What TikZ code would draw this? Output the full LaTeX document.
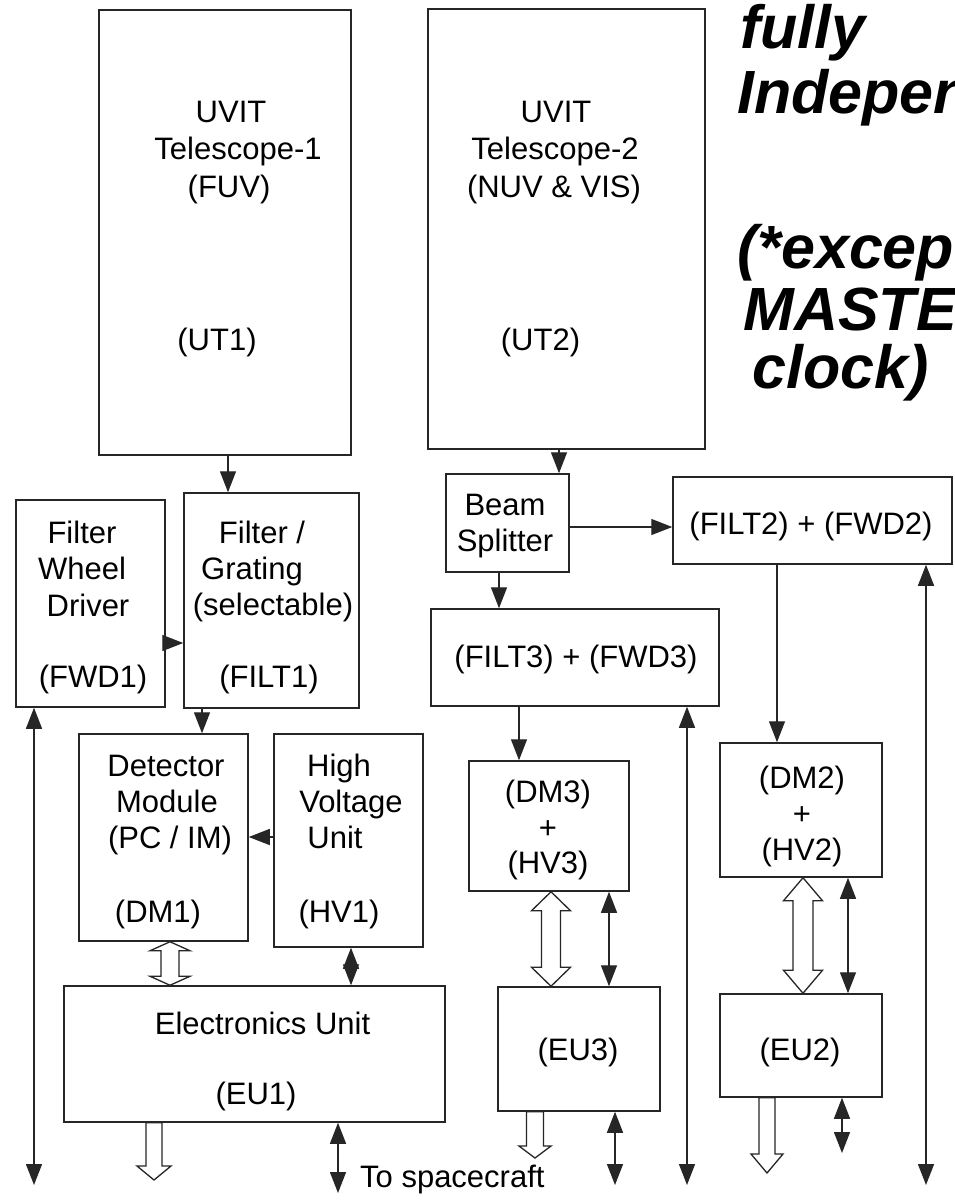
\documentclass[tikz,border=0pt]{standalone}
\usepackage{fontspec}
\setmainfont{Liberation Sans}
\usetikzlibrary{arrows.meta,calc}
\tikzset{
  box/.style={draw=black!85, line width=1.5pt, inner sep=0pt},
  lbl/.style={anchor=base, inner sep=0pt, font=\fontsize{31}{36}\selectfont},
  conn/.style={draw=black!85, line width=1.4pt},
  arr/.style={conn, -{Triangle[width=16pt,length=21pt]}},
  dbl/.style={conn, {Triangle[width=16pt,length=21pt]}-{Triangle[width=16pt,length=21pt]}},
  blk/.style={draw=black!85, line width=1.3pt, fill=white, line join=miter},
  note/.style={anchor=base west, inner sep=0pt, font=\fontsize{61}{64}\selectfont\bfseries\itshape}
}
% hollow double-headed block arrow: #1 top tip, #2 bottom tip, #3 half shaft, #4 half head, #5 head length
\newcommand{\blockdbl}[5]{%
  \draw[blk] (#1) -- ($(#1)+(#4,#5)$) -- ($(#1)+(#3,#5)$) -- ($(#2)+(#3,-#5)$) -- ($(#2)+(#4,-#5)$) -- (#2)
    -- ($(#2)+(-#4,-#5)$) -- ($(#2)+(-#3,-#5)$) -- ($(#1)+(-#3,#5)$) -- ($(#1)+(-#4,#5)$) -- cycle;}
% hollow single down block arrow: #1 top centre, #2 tip
\newcommand{\blockdown}[5]{%
  \draw[blk] ($(#1)+(-#3,0)$) -- ($(#1)+(#3,0)$) -- ($(#2)+(#3,-#5)$) -- ($(#2)+(#4,-#5)$) -- (#2)
    -- ($(#2)+(-#4,-#5)$) -- ($(#2)+(-#3,-#5)$) -- cycle;}
\begin{document}
\begin{tikzpicture}[x=1pt,y=-1pt]
\useasboundingbox (0,0) rectangle (954,1200);
\fill[white] (0,0) rectangle (954,1200);
\clip (0,0) rectangle (954,1200);

% ---------- boxes ----------
\node[box, minimum width=252pt, minimum height=445pt] (UT1) at (225,232.5) {};
\node[box, minimum width=277pt, minimum height=440pt] (UT2) at (566.5,229) {};
\node[box, minimum width=149pt, minimum height=207pt] (FWD1) at (90.5,603.5) {};
\node[box, minimum width=175pt, minimum height=215pt] (FILT1) at (271.5,600.5) {};
\node[box, minimum width=123pt, minimum height=98pt] (BS) at (507.5,523) {};
\node[box, minimum width=279pt, minimum height=87pt] (FILT2) at (812.5,520.5) {};
\node[box, minimum width=288pt, minimum height=97pt] (FILT3) at (575,657.5) {};
\node[box, minimum width=169pt, minimum height=207pt] (DM1) at (163.5,837.5) {};
\node[box, minimum width=149pt, minimum height=213pt] (HV1) at (348.5,840.5) {};
\node[box, minimum width=160pt, minimum height=130pt] (DM3) at (549,826) {};
\node[box, minimum width=162pt, minimum height=134pt] (DM2) at (801,810) {};
\node[box, minimum width=381pt, minimum height=136pt] (EU1) at (254.5,1054) {};
\node[box, minimum width=162pt, minimum height=124pt] (EU3) at (579,1049) {};
\node[box, minimum width=162pt, minimum height=103pt] (EU2) at (801,1045.5) {};

% ---------- texts ----------
\node[lbl] (t1) at (231,122) {UVIT};
\node[lbl] (t2) at (238,159) {Telescope-1};
\node[lbl] (t3) at (229,197) {(FUV)};
\node[lbl] (t4) at (217,350) {(UT1)};
\node[lbl] (t5) at (556,122) {UVIT};
\node[lbl] (t6) at (555,159) {Telescope-2};
\node[lbl] (t7) at (554,197) {(NUV \& VIS)};
\node[lbl] (t8) at (540.5,350) {(UT2)};
\node[lbl] (t9) at (82,543) {Filter};
\node[lbl] (t10) at (82,579) {Wheel};
\node[lbl] (t11) at (88,616) {Driver};
\node[lbl] (t12) at (93,687) {(FWD1)};
\node[lbl] (t13) at (262,543) {Filter /};
\node[lbl] (t14) at (252,579) {Grating};
\node[lbl] (t15) at (273,615) {(selectable)};
\node[lbl] (t16) at (269,687) {(FILT1)};
\node[lbl] (t17) at (505,515) {Beam};
\node[lbl] (t18) at (505,551) {Splitter};
\node[lbl] (t19) at (811,534) {(FILT2) + (FWD2)};
\node[lbl] (t20) at (576,667) {(FILT3) + (FWD3)};
\node[lbl] (t21) at (166,776) {Detector};
\node[lbl] (t22) at (167,812) {Module};
\node[lbl] (t23) at (170,848) {(PC / IM)};
\node[lbl] (t24) at (158,922) {(DM1)};
\node[lbl] (t25) at (339,776) {High};
\node[lbl] (t26) at (351,812) {Voltage};
\node[lbl] (t27) at (335,848) {Unit};
\node[lbl] (t28) at (339,922) {(HV1)};
\node[lbl] (t29) at (548,802) {(DM3)};
\node[lbl] (t30) at (548,838) {+};
\node[lbl] (t31) at (548,873) {(HV3)};
\node[lbl] (t32) at (802,788) {(DM2)};
\node[lbl] (t33) at (802,824) {+};
\node[lbl] (t34) at (802,860) {(HV2)};
\node[lbl] (t35) at (262.5,1034) {Electronics Unit};
\node[lbl] (t36) at (256,1104) {(EU1)};
\node[lbl] (t37) at (578,1060) {(EU3)};
\node[lbl] (t38) at (800,1060) {(EU2)};
\node[lbl, anchor=base west] (t39) at (360,1187) {To spacecraft};

\node[note] (n1) at (740,48) {fully};
\node[note] (n2) at (737,113) {Independent};
\node[note] (n3) at (737,268) {(*except};
\node[note] (n4) at (743,330) {MASTER};
\node[note] (n5) at (752,388) {clock)};

% ---------- single-headed connectors ----------
\coordinate (a1) at ([xshift=3pt]UT1.south);
\draw[arr] (a1) -- (a1 |- FILT1.north);
\coordinate (a2) at ([xshift=-7.5pt]UT2.south);
\draw[arr] (a2) -- (a2 |- BS.north);
\coordinate (a3) at ([yshift=-4pt]BS.east);
\draw[arr] (a3) -- (a3 -| FILT2.west);
\coordinate (a4) at ([xshift=-8.5pt]BS.south);
\draw[arr] (a4) -- (a4 |- FILT3.north);
\coordinate (a5) at ([yshift=-39.5pt]FWD1.east);
\draw[arr] (a5) -- (a5 -| FILT1.west);
\coordinate (a6) at ([xshift=-69.5pt]FILT1.south);
\draw[arr] (a6) -- (a6 |- DM1.north);
\coordinate (a7) at ([yshift=3.5pt]HV1.west);
\draw[arr] (a7) -- (a7 -| DM1.east);
\coordinate (a8) at ([xshift=-56pt]FILT3.south);
\draw[arr] (a8) -- (a8 |- DM3.north);
\coordinate (a9) at ([xshift=-35.5pt]FILT2.south);
\draw[arr] (a9) -- (a9 |- DM2.north);

% ---------- hollow double block arrows ----------
\coordinate (h1) at ([xshift=6.5pt]DM1.south);
\coordinate (h1e) at (h1 |- EU1.north);
\blockdbl{h1}{h1e}{9}{20}{9}
\coordinate (h2) at ([xshift=2pt]DM3.south);
\coordinate (h2e) at (h2 |- EU3.north);
\blockdbl{h2}{h2e}{9.5}{19.5}{19}
\coordinate (h3) at ([xshift=2pt]DM2.south);
\coordinate (h3e) at (h3 |- EU2.north);
\blockdbl{h3}{h3e}{10}{19.5}{23}

% ---------- solid double arrows between units ----------
\coordinate (s1) at ([xshift=2.5pt]HV1.south);
\draw[dbl] (s1) -- (s1 |- EU1.north);
\coordinate (s2) at ([xshift=60pt]DM3.south);
\draw[dbl] (s2) -- (s2 |- EU3.north);
\coordinate (s3) at ([xshift=47pt]DM2.south);
\draw[dbl] (s3) -- (s3 |- EU2.north);

% ---------- outputs at the bottom ----------
\coordinate (o1) at ([xshift=-100.5pt]EU1.south);
\coordinate (o1e) at (154,1180);
\blockdown{o1}{o1e}{8}{17}{14}
\coordinate (o2) at ([xshift=83.5pt]EU1.south);
\coordinate (o2e) at (338,1193);
\draw[dbl] (o2) -- (o2e);
\coordinate (o3) at ([xshift=-44pt]EU3.south);
\coordinate (o3e) at (535,1158);
\blockdown{o3}{o3e}{8.5}{16}{12}
\coordinate (o4) at ([xshift=36pt]EU3.south);
\coordinate (o4e) at (615,1185);
\draw[dbl] (o4) -- (o4e);
\coordinate (o5) at ([xshift=-34pt]EU2.south);
\coordinate (o5e) at (767,1173);
\blockdown{o5}{o5e}{8}{16}{19}
\coordinate (o6) at ([xshift=41pt]EU2.south);
\coordinate (o6e) at (842,1153);
\draw[dbl] (o6) -- (o6e);

% ---------- long lines to the bottom ----------
\coordinate (l1) at ([xshift=-56.5pt]FWD1.south);
\coordinate (l1e) at (34,1185);
\draw[dbl] (l1) -- (l1e);
\coordinate (l2) at ([xshift=112pt]FILT3.south);
\coordinate (l2e) at (687,1185);
\draw[dbl] (l2) -- (l2e);
\coordinate (l3) at ([xshift=113.5pt]FILT2.south);
\coordinate (l3e) at (926,1185);
\draw[dbl] (l3) -- (l3e);
\end{tikzpicture}
\end{document}
